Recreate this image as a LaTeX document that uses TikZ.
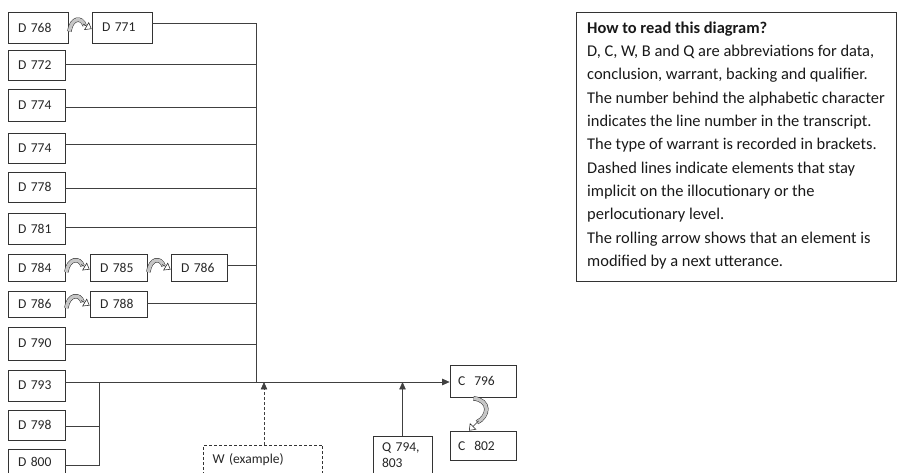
\documentclass[tikz,border=0pt]{standalone}
\usepackage{fontspec}
\setmainfont{Carlito}
\usetikzlibrary{arrows.meta,calc}
\newcommand\rollh[2]{%
  \draw[rollband] ($(#1.east)+(1,4)$) .. controls ($(#1.east)+(3,-10)$) and ($(#2.west)+(-10,-11)$) .. ($(#2.west)+(-7,-2)$);
  \draw[rollhead] ($(#2.west)+(-8.5,-3.5)$) -- ($(#2.west)+(0,1.5)$);
}
\begin{document}
\begin{tikzpicture}[x=1bp,y=-1bp,
  box/.style={draw=black!80, line width=0.7bp, text=black!85,
    font=\fontsize{13.6}{15.5}\selectfont, inner xsep=10bp, inner ysep=0pt,
    align=left, text width=#1, minimum height=30bp},
  cbox/.style={box=#1, inner xsep=8bp},
  wire/.style={draw=black!75, line width=0.7bp},
  arr/.style={wire, -{Triangle[length=7.5bp,width=6.5bp]}},
  dsh/.style={dash pattern=on 3bp off 2bp},
  rollband/.style={double=gray!45, double distance=3.4bp, draw=gray!30!black, line width=0.5bp},
  rollhead/.style={draw=gray!30!black, line width=0.55bp, -{Triangle[open,length=6bp,width=9bp]}},
  legend/.style={text=black!90, font=\fontsize{16.5}{23.4}\selectfont, align=left, inner sep=0pt}
]
\useasboundingbox (0,0) rectangle (897,473);

% data boxes
\node[box=40bp, minimum height=31bp] (d768) at (38,27.5) {D 768};
\node[box=40bp, minimum height=31bp] (d771) at (122,27.5) {D 771};
\node[box=37bp] (d772) at (36.5,65) {D 772};
\node[box=37bp, minimum height=32bp] (d774a) at (36.5,105) {D 774};
\node[box=37bp] (d774b) at (36.5,148) {D 774};
\node[box=37bp] (d778) at (36.5,187) {D 778};
\node[box=37bp, minimum height=31bp] (d781) at (36.5,228.5) {D 781};
\node[box=37bp, minimum height=27bp] (d784) at (36.5,268) {D 784};
\node[box=37bp, minimum height=27bp] (d785) at (118.5,268) {D 785};
\node[box=36bp, minimum height=27bp] (d786a) at (199,268) {D 786};
\node[box=37bp, minimum height=26bp] (d786b) at (36.5,304) {D 786};
\node[box=37bp, minimum height=26bp] (d788) at (118.5,304) {D 788};
\node[box=37bp, minimum height=33bp] (d790) at (36.5,343.5) {D 790};
\node[box=37bp, minimum height=31bp] (d793) at (36.5,385.5) {D 793};
\node[box=37bp] (d798) at (36.5,425) {D 798};
\node[box=37bp, minimum height=26bp] (d800) at (36.5,462) {D 800};

% conclusions, warrant, qualifier
\node[cbox=50bp, minimum height=32bp] (c796) at (483,381) {C\ \ 796};
\node[cbox=50bp, minimum height=29bp] (c802) at (483,445.5) {C\ \ 802};
\node[box=101bp, inner xsep=9bp, dsh] (w) at (263,460) {W (example)};
\node[box=41bp, inner xsep=9bp, minimum height=38bp] (q) at (402.5,455) {Q 794,\\803};

% spine coordinates
\coordinate (s771) at (256,23);
\coordinate (s772) at (256,64);
\coordinate (s774a) at (256,107);
\coordinate (s774b) at (256,144);
\coordinate (s778) at (256,188);
\coordinate (s781) at (256,227);
\coordinate (s786) at (256,265);
\coordinate (s788) at (256,303);
\coordinate (s790) at (256,344);
\coordinate (j) at (256,382);
\coordinate (k1) at (99,382);
\coordinate (k798) at (99,426);
\coordinate (k800) at (99,465);

\draw[wire] (d771.east |- s771) -- (s771) -- (j);
\foreach \n/\s in {d772/s772, d774a/s774a, d774b/s774b, d778/s778, d781/s781, d786a/s786, d788/s788, d790/s790}
  \draw[wire] (\n.east |- \s) -- (\s);
\draw[arr] (d793.east |- j) -- (c796.west |- j);
\draw[wire] (d798.east |- k798) -- (k798);
\draw[wire] (d800.east |- k800) -- (k800) -- (k1);
\draw[arr, dsh] ([xshift=1bp]w.north) -- ([xshift=1bp]w.north |- j);
\draw[arr] (q.north) -- (q.north |- j);

% rolling arrows
\rollh{d768}{d771}
\rollh{d784}{d785}
\rollh{d785}{d786a}
\rollh{d786b}{d788}
\draw[rollband] ($(c796.south)+(-9.5,1)$) .. controls ($(c796.south)+(8,3)$) and ($(c796.south)+(6,19)$) .. ($(c796.south)+(-6,25)$);
\draw[rollhead] ($(c796.south)+(-4.5,23.5)$) -- ($(c802.north)+(-14,0)$);

% legend
\node[draw=black!80, line width=0.7bp, minimum width=320bp, minimum height=269bp, anchor=north west, inner sep=0pt] (legbox) at (576,12) {};
\node[legend, anchor=north west] (leg) at (587,21.5) {\textbf{How to read this diagram?}\\
D, C, W, B and Q are abbreviations for data,\\
conclusion, warrant, backing and qualifier.\\
The number behind the alphabetic character\\
indicates the line number in the transcript.\\
The type of warrant is recorded in brackets.\\
Dashed lines indicate elements that stay\\
implicit on the illocutionary or the\\
perlocutionary level.\\
The rolling arrow shows that an element is\\
modified by a next utterance.};
\end{tikzpicture}
\end{document}
